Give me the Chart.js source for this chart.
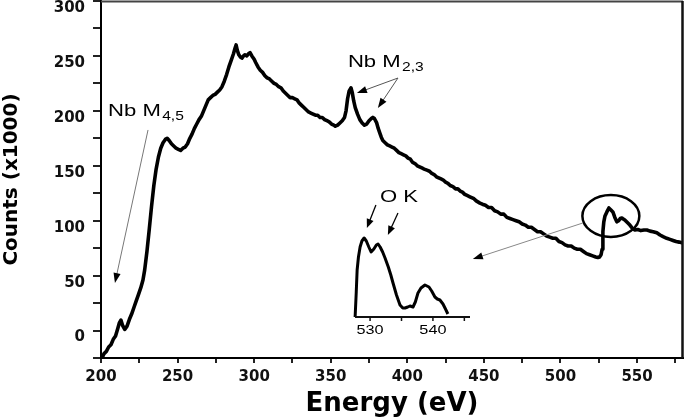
<!DOCTYPE html>
<html><head><meta charset="utf-8">
<script src="https://cdn.jsdelivr.net/npm/chart.js@4.4.1/dist/chart.umd.min.js"></script>
<style>
html,body{margin:0;padding:0;background:#fff;}
#wrap{position:relative;width:685px;height:420px;overflow:hidden;}
#main{position:absolute;left:0;top:0;}
#inset{position:absolute;left:345px;top:220px;}
</style>
</head><body>
<div id="wrap"><canvas id="main" width="685" height="420"></canvas><canvas id="inset" width="135" height="120"></canvas></div>
<script>
// ---- Main spectrum (Energy in eV, Counts x1000) ----
const energy = [200.7,202,203.5,205,206.5,208,209.5,211,212,213,214,215.5,217,218.5,220,221.5,223,224.5,226,227.4,228.5,230,231.5,233,234.5,236,237.5,239,240.5,242,243.2,244.5,246,247.5,249,250.5,252,253.5,255,256.5,258,259.5,261,262.5,264,265.5,267,268.5,270,271.5,273,274.5,276,277.5,279,280.5,282,283.5,285,286.5,287.5,288.2,289,290,291,292,293,294,295.2,296.3,297.3,298.5,300,301,302.5,304,305.5,307,308.5,310,311.5,313,314.5,316,317.5,319,320.5,322,323.5,325,326.5,328,329.5,331,332.5,334,335.5,337,338.5,340,341.5,343,344.5,346,347.5,349,350.5,352,353,354.5,356,357.5,359,360,361,362,363.2,364,365,366,367.5,369,370.5,372,373.5,375,376.5,377.5,378.5,380,381,382,383,384,385.5,387,388.5,390,391.5,393,394.5,396,397.5,399,400.5,402,403.5,405,406.5,408,409.5,411,412.8,414.5,416,417.5,419,420.5,422,423.5,425,426.5,428,429.8,431.5,433,434.5,436,437.5,439,440.5,442,443.5,445,447.4,449,451,453,455,457,459,461,463,465,467,469,471,473,475,477,479,481,483,485,487,489,491,493,495,497,499,501,503,505,507,509,511,513,515,517,519,521,523,524.4,525.5,526.5,527.2,527.7,528.3,529,530.3,531.6,532.8,534.2,535.5,536.8,538,539,540.1,541,542,543.5,545.3,547,548.6,550.5,552.5,554.5,556.4,558.5,560.5,562.9,565,567,569.4,571.5,573.5,575.5,577.5,579.9];
const counts = [-25,-21,-19,-15,-13,-8,-5,2,7,9.5,5,1,4,10,15,21,27,33,39,46,55,72,92,113,132,147,158,166,171,174,175,173,170,168,166,165,164,166,167,170,175,179,184,188,192,195,200,205,210,212,214,215,217,219,222,227,233,240,246,252,257,260,255,251,249,248,250,251,250,252,253,250,247,244,240,237,235,232,230,229,227,225,224,222,221,218,216,214,212,212,211,210,207,205,203,201,199,198,197,196,196,194,194,192,191,190,188,187,186,187,189,191,194,200,211,218,221,217,209,203,197,192,189,187,188,191,193,194,193,189,184,180,176,173,171,169,168,167,166,164,162,161,160,159,157,156,153,152,150,149,148,147,146,145,143,142,140,139,138,137,135,134,132,131,129,129,127,126,124,123,122,121,120,118,116,115,114,112,112,109,108,106,106,103,102,101,100,99,97,96,94,94,92,90,90,88,86,85,84,84,81,80,78,77,77,75,74,74,72,70,69,68,67,66.5,67,69,74,90,99,104,108,111.6,110,108,103,99,100,102,102.5,101.5,100.6,98.5,96,93,91.5,92,91,91.5,91.5,90.5,90,89,87,85.5,84,83,82,81,80.5,79.7];

// ---- Inset: O K edge ----
const insetEnergy = [527.62,527.8,527.94,528.15,528.41,528.7,529.05,529.4,529.8,530.16,530.6,531.0,531.27,531.6,532.0,532.38,532.9,533.3,533.65,534.2,534.76,535.2,535.56,536.0,536.35,536.83,537.2,537.62,538.1,538.73,539.05,539.37,539.8,540.32,540.7,541.11,541.6,542.0,542.38];
const insetCounts = [0,25,47,60,70,76,79,76,70,65,68,72,73,70,65,59,50,42,34,22,12,9,9,10,11,10,15,24,29,32,31,30,26,20,18,17,13,8,3];

// ---- Tick values / labels ----
const xTickValues = [200,225,250,275,300,325,350,375,400,425,450,475,500,525,550,575];
const xTickLabels = [200,250,300,350,400,450,500,550];
const yTickValues = [-25,0,25,50,75,100,125,150,175,200,225,250,275,300];
const yTickLabels = [0,50,100,150,200,250,300];
const insetTickValues = [530,535,540,545];
const insetTickLabels = [530,540];

Chart.defaults.font.family = 'DejaVu Sans';
Chart.defaults.color = '#111';

function arrow(ctx, x1, y1, x2, y2, color, lw, head) {
  const a = Math.atan2(y2 - y1, x2 - x1);
  const hl = head || 9, hw = 3.6;
  ctx.save();
  ctx.strokeStyle = color; ctx.lineWidth = lw;
  ctx.beginPath(); ctx.moveTo(x1, y1);
  ctx.lineTo(x2 - Math.cos(a) * hl * 0.8, y2 - Math.sin(a) * hl * 0.8); ctx.stroke();
  ctx.fillStyle = '#000';
  ctx.beginPath();
  ctx.moveTo(x2, y2);
  ctx.lineTo(x2 - Math.cos(a) * hl - Math.sin(a) * hw, y2 - Math.sin(a) * hl + Math.cos(a) * hw);
  ctx.lineTo(x2 - Math.cos(a) * hl + Math.sin(a) * hw, y2 - Math.sin(a) * hl - Math.cos(a) * hw);
  ctx.closePath(); ctx.fill();
  ctx.restore();
}
function label(ctx, x, y, main, sub, size) {
  ctx.save();
  ctx.fillStyle = '#000';
  ctx.textBaseline = 'alphabetic';
  ctx.textAlign = 'left';
  ctx.translate(x, y);
  ctx.scale(1.3, 1);
  ctx.font = size + 'px "Liberation Sans"';
  ctx.fillText(main, 0, 0);
  if (sub) {
    const w = ctx.measureText(main).width;
    ctx.font = Math.round(size * 0.72) + 'px "Liberation Sans"';
    ctx.fillText(sub, w + 1, 4);
  }
  ctx.restore();
}

const deco = {
  id: 'deco',
  afterDraw(chart) {
    const ctx = chart.ctx, a = chart.chartArea;
    const X = v => chart.scales.x.getPixelForValue(v);
    const Y = v => chart.scales.y.getPixelForValue(v);
    // frame top / right
    ctx.save();
    ctx.strokeStyle = '#444'; ctx.lineWidth = 2;
    ctx.beginPath(); ctx.moveTo(a.left, a.top + 0.5); ctx.lineTo(a.right, a.top + 0.5); ctx.stroke();
    ctx.strokeStyle = '#111'; ctx.lineWidth = 2.5;
    ctx.beginPath(); ctx.moveTo(a.right - 0.5, a.top); ctx.lineTo(a.right - 0.5, a.bottom); ctx.stroke();
    ctx.restore();
    // labels
    label(ctx, X(204.6), Y(195.3), 'Nb M', '4,5', 17);
    label(ctx, X(361.2), Y(239.9), 'Nb M', '2,3', 17);
    label(ctx, X(382.1), Y(117.0), 'O K', '', 17);
    // arrows
    arrow(ctx, X(230.7), Y(182.6), X(209.1), Y(43.3), '#777', 1, 10);
    arrow(ctx, X(393.9), Y(229.9), X(367.1), Y(216.2), '#555', 1, 10);
    arrow(ctx, X(393.9), Y(229.9), X(380.8), Y(202.6), '#555', 1, 10);
    arrow(ctx, X(379.5), Y(114.3), X(373.6), Y(93.3), '#000', 1.3, 9);
    arrow(ctx, X(393.9), Y(107.0), X(387.3), Y(87.0), '#000', 1.3, 9);
    arrow(ctx, X(514.6), Y(97.9), X(442.8), Y(65.1), '#888', 1, 10);
    // circle around O K edge
    const cx = X(532.9), cy = Y(104.3);
    const rx = X(532.9 + 18.6) - cx, ry = cy - Y(104.3 + 19.1);
    ctx.save();
    ctx.strokeStyle = '#000'; ctx.lineWidth = 2.5;
    ctx.beginPath(); ctx.ellipse(cx, cy, rx, ry, 0, 0, Math.PI * 2); ctx.stroke();
    ctx.restore();
  }
};

new Chart(document.getElementById('main'), {
  type: 'line',
  data: { datasets: [{
    data: energy.map((e, i) => ({ x: e, y: counts[i] })),
    borderColor: '#000', borderWidth: 3.6, pointRadius: 0, tension: 0, fill: false,
    borderJoinStyle: 'round', borderCapStyle: 'round'
  }]},
  options: {
    responsive: false, animation: false, devicePixelRatio: 1,
    layout: { padding: { top: 1, right: 2, left: 0, bottom: 0 } },
    plugins: { legend: { display: false }, tooltip: { enabled: false } },
    scales: {
      x: {
        type: 'linear', min: 200, max: 580,
        afterBuildTicks: s => { s.ticks = xTickValues.map(v => ({ value: v })); },
        afterFit: s => { s.height = 62; s.paddingLeft = 0; s.paddingRight = 0; },
        ticks: {
          autoSkip: false, maxRotation: 0, padding: 5,
          font: { family: 'DejaVu Sans', size: 15, weight: 'bold' }, color: '#111',
          callback: v => xTickLabels.includes(v) ? String(v) : ''
        },
        grid: { display: true, drawOnChartArea: false, drawTicks: true, tickLength: 5, tickWidth: 2, lineWidth: 2, tickColor: '#222' },
        border: { display: true, color: '#000', width: 2 },
        title: { display: true, text: 'Energy (eV)', color: '#000', padding: 0,
          font: { family: 'DejaVu Sans', size: 26, weight: 'bold', lineHeight: 1.2 } }
      },
      y: {
        type: 'linear', min: -25, max: 300,
        afterBuildTicks: s => { s.ticks = yTickValues.map(v => ({ value: v })); },
        afterFit: s => { s.width = 101; s.paddingTop = 0; s.paddingBottom = 0; },
        ticks: {
          autoSkip: false, padding: 8, labelOffset: 7,
          font: { family: 'DejaVu Sans', size: 15, weight: 'bold' }, color: '#111',
          callback: v => yTickLabels.includes(v) ? String(v) : ''
        },
        grid: { display: true, drawOnChartArea: false, drawTicks: true, tickLength: 8, tickWidth: 2, lineWidth: 2, tickColor: '#222' },
        border: { display: true, color: '#000', width: 2 },
        title: { display: true, text: 'Counts (x1000)', color: '#000', padding: 0,
          font: { family: 'DejaVu Sans', size: 20, weight: 'bold', lineHeight: 1.2 } }
      }
    }
  },
  plugins: [deco]
});

const insetAxis = {
  id: 'insetAxis',
  afterDraw(chart) {
    const ctx = chart.ctx, a = chart.chartArea, xs = chart.scales.x;
    ctx.save();
    ctx.strokeStyle = '#111'; ctx.lineWidth = 2;
    ctx.beginPath(); ctx.moveTo(a.left, a.bottom); ctx.lineTo(a.right, a.bottom); ctx.stroke();
    ctx.lineWidth = 1.5;
    insetTickValues.forEach(v => {
      const px = xs.getPixelForValue(v);
      ctx.beginPath(); ctx.moveTo(px, a.bottom); ctx.lineTo(px, a.bottom + 4); ctx.stroke();
    });
    ctx.fillStyle = '#000'; ctx.textAlign = 'center'; ctx.textBaseline = 'middle';
    insetTickLabels.forEach(v => {
      const px = xs.getPixelForValue(v);
      ctx.save(); ctx.translate(px, a.bottom + 13); ctx.scale(1.25, 1);
      ctx.font = '13px "Liberation Sans"'; ctx.fillText(String(v), 0, 0);
      ctx.restore();
    });
    ctx.restore();
  }
};

new Chart(document.getElementById('inset'), {
  type: 'line',
  data: { datasets: [{
    data: insetEnergy.map((e, i) => ({ x: e, y: insetCounts[i] })),
    borderColor: '#000', borderWidth: 3, pointRadius: 0, tension: 0, fill: false, clip: false,
    borderJoinStyle: 'round'
  }]},
  options: {
    responsive: false, animation: false, devicePixelRatio: 1,
    layout: { padding: { left: 10, right: 10, top: 0, bottom: 23 } },
    plugins: { legend: { display: false }, tooltip: { enabled: false } },
    scales: {
      x: { type: 'linear', min: 527.6, max: 545.9, display: false },
      y: { type: 'linear', min: 0, max: 97, display: false }
    }
  },
  plugins: [insetAxis]
});
</script>
</body></html>
